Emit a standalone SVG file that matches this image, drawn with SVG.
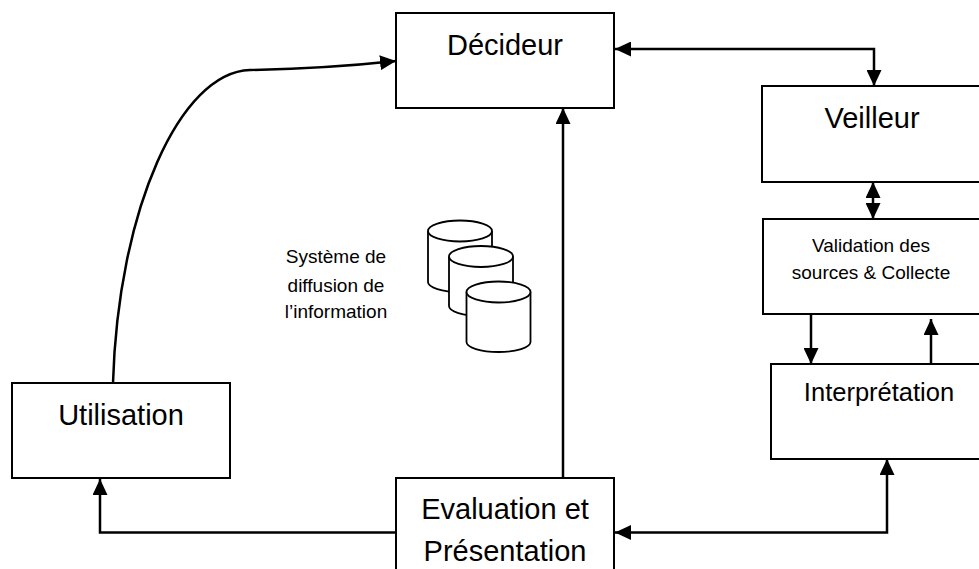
<svg xmlns="http://www.w3.org/2000/svg" width="979" height="569" viewBox="0 0 979 569">
<defs>
<marker id="arr" viewBox="0 0 16 15" refX="16" refY="7.5" markerWidth="16" markerHeight="15" markerUnits="userSpaceOnUse" orient="auto-start-reverse">
<path d="M0,0 L16,7.5 L0,15 Z" fill="#000"/>
</marker>
</defs>
<style>
.box{fill:#fff;stroke:#000;stroke-width:2}
.cyl{fill:#fff;stroke:#000;stroke-width:1.8}
.con{fill:none;stroke:#000;stroke-width:2.5}
.big{font-family:"Liberation Sans",Arial,sans-serif;font-size:29px;fill:#000;text-anchor:middle}
.mid{font-family:"Liberation Sans",Arial,sans-serif;font-size:25.5px;fill:#000;text-anchor:middle}
.sm{font-family:"Liberation Sans",Arial,sans-serif;font-size:19px;fill:#000;text-anchor:middle}
</style>
<rect width="979" height="569" fill="#fff"/>
<g id="connectors">
<path class="con" d="M113,383 C118,210 180,72 250,70 C300,69 350,66 396,61" marker-end="url(#arr)"/>
<path class="con" d="M615,49 H874 V86" marker-start="url(#arr)" marker-end="url(#arr)"/>
<path class="con" d="M873,182 V219" marker-start="url(#arr)" marker-end="url(#arr)"/>
<path class="con" d="M811,314 V364" marker-end="url(#arr)"/>
<path class="con" d="M931,364 V319" marker-end="url(#arr)"/>
<path class="con" d="M563,478 V108" marker-end="url(#arr)"/>
<path class="con" d="M396,532.5 H100 V479" marker-end="url(#arr)"/>
<path class="con" d="M887,459 V532.5 H615" marker-start="url(#arr)" marker-end="url(#arr)"/>
</g>
<g id="decideur">
<rect class="box" x="396" y="13" width="218" height="95"/>
<text class="big" x="505" y="55">Décideur</text>
</g>
<g id="veilleur">
<rect class="box" x="762" y="86" width="230" height="96"/>
<text class="big" x="872" y="128">Veilleur</text>
</g>
<g id="validation">
<rect class="box" x="763" y="219" width="230" height="95"/>
<text class="sm" x="871" y="252">Validation des</text>
<text class="sm" x="871" y="279">sources &amp; Collecte</text>
</g>
<g id="interpretation">
<rect class="box" x="771" y="364" width="230" height="95"/>
<text class="mid" x="879" y="401">Interprétation</text>
</g>
<g id="utilisation">
<rect class="box" x="12" y="383" width="218" height="95"/>
<text class="big" x="121" y="425">Utilisation</text>
</g>
<g id="evaluation">
<rect class="box" x="396" y="478" width="218" height="100"/>
<text class="big" x="505" y="519">Evaluation et</text>
<text class="big" x="505" y="561">Présentation</text>
</g>
<g id="systeme">
<text class="sm" x="336" y="263">Système de</text>
<text class="sm" x="336" y="292">diffusion de</text>
<text class="sm" x="336" y="318">l’information</text>
<g id="cylinders">
<path class="cyl" d="M428,231 V282 A32,10 0 0 0 492,282 V231"/>
<ellipse class="cyl" cx="460" cy="231" rx="32" ry="10.5"/>
<path class="cyl" d="M449,256.5 V306 A32,10 0 0 0 513,306 V256.5"/>
<ellipse class="cyl" cx="481" cy="256.5" rx="32" ry="10.5"/>
<path class="cyl" d="M466.5,292 V342 A32,10 0 0 0 530.5,342 V292"/>
<ellipse class="cyl" cx="498.5" cy="292" rx="32" ry="10.5"/>
</g>
</g>
</svg>
